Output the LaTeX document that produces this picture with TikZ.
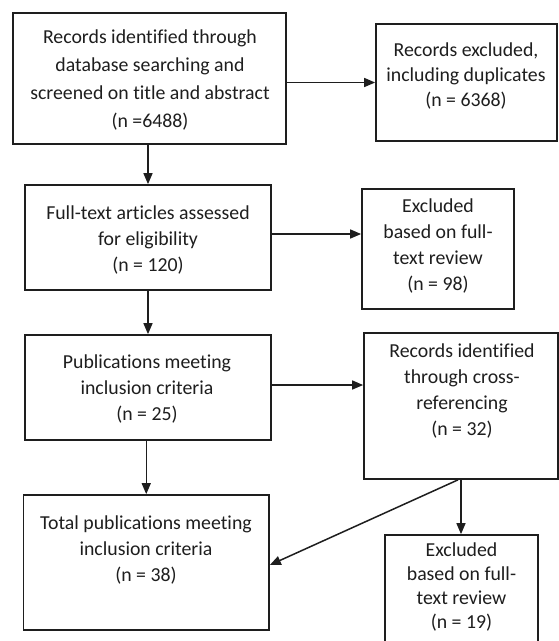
\documentclass[tikz,border=0pt]{standalone}
\usepackage{fontspec}
\setmainfont[Ligatures=NoCommon]{Carlito}
\usetikzlibrary{arrows.meta}
\definecolor{ink}{HTML}{1E1E1E}
\tikzset{
  boxshape/.style={draw=ink, line width=1.7pt, rectangle, inner sep=0pt},
  txt/.style={inner sep=0pt, align=center, text=ink},
  arr/.style={draw=ink, line width=1.5pt, -{Triangle[length=11pt,width=9pt]}},
}
\newcommand{\fs}[1]{\fontsize{19.8}{#1}\selectfont}
\begin{document}
\begin{tikzpicture}[x=1pt,y=-1pt]
\useasboundingbox (0,0) rectangle (559,641);
\clip (0,0) rectangle (559,641);
\fill[white] (0,0) rectangle (559,641);
% boxes
\node[boxshape, minimum width=273pt, minimum height=131pt] (A) at (149.5,78.5) {};
\node[boxshape, minimum width=181pt, minimum height=117pt] (B) at (466.5,82.5) {};
\node[boxshape, minimum width=246pt, minimum height=105pt] (C) at (148,237.5) {};
\node[boxshape, minimum width=152pt, minimum height=120pt] (D) at (438,249) {};
\node[boxshape, minimum width=246pt, minimum height=105pt] (E) at (148,387.5) {};
\node[boxshape, minimum width=194pt, minimum height=146pt] (F) at (461,406) {};
\node[boxshape, minimum width=245.5pt, minimum height=135pt] (G) at (146.25,562.5) {};
\node[boxshape, minimum width=153pt, minimum height=145pt] (H) at (461.5,607.5) {};
% texts
\node[txt, font=\fs{28}] (At) at (150,80) {Records identified through\\database searching and\\screened on title and abstract\\(n =6488)};
\node[txt, font=\fs{25}] (Bt) at (466,76) {Records excluded,\\including duplicates\\(n = 6368)};
\node[txt, font=\fs{26}] (Ct) at (148,240) {Full-text articles assessed\\for eligibility\\(n = 120)};
\node[txt, font=\fs{26}] (Dt) at (438,246) {Excluded\\based on full-\\text review\\(n = 98)};
\node[txt, font=\fs{26}] (Et) at (147,389) {Publications meeting\\inclusion criteria\\(n = 25)};
\node[txt, font=\fs{26}] (Ft) at (462,391) {Records identified\\through cross-\\referencing\\(n = 32)};
\node[txt, font=\fs{26}] (Gt) at (146,550) {Total publications meeting\\inclusion criteria\\(n = 38)};
\node[txt, font=\fs{24}] (Ht) at (461.5,587) {Excluded\\based on full-\\text review\\(n = 19)};
% connectors
\draw[arr] (A.east |- B.west) -- (B.west);
\draw[arr] (A.south -| C.north) -- (C.north);
\draw[arr] ([yshift=3.5pt]C.east) -- ([yshift=3.5pt]C.east -| D.west);
\draw[arr] (C.south) -- (E.north);
\draw[arr] ([yshift=2.5pt]E.east) -- ([yshift=2.5pt]E.east -| F.west);
\draw[arr] (G.north |- E.south) -- (G.north);
\draw[arr] (F.south) -- (F.south |- H.north);
\draw[arr] ([xshift=-3pt]F.south) -- ([yshift=-2.5pt]G.east);
\end{tikzpicture}
\end{document}
